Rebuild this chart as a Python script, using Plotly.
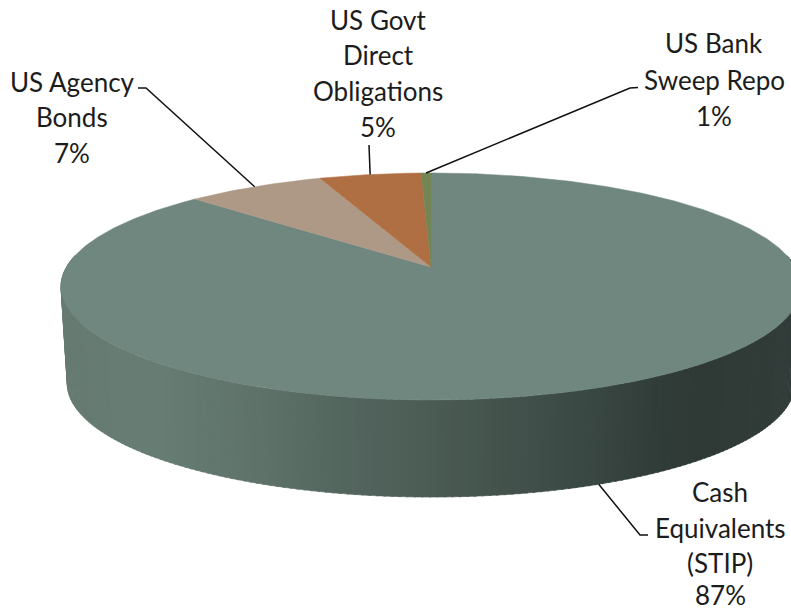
import numpy as np
import plotly.graph_objects as go

# Data (clockwise from 12 o'clock, as drawn)
categories = ["Cash Equivalents (STIP)", "US Agency Bonds", "US Govt Direct Obligations", "US Bank Sweep Repo"]
values = [87.1, 7.15, 5.25, 0.5]
percent_labels = ["87%", "7%", "5%", "1%"]
label_lines = [["Cash", "Equivalents", "(STIP)"], ["US Agency", "Bonds"], ["US Govt", "Direct", "Obligations"], ["US Bank", "Sweep Repo"]]
slice_colors = ["#70877F", "#AD9986", "#B06E43", "#748555"]

# Label line centres in the picture
label_x = [720, 72, 378, 714]
label_y = [[492, 528, 563, 595], [82, 117, 153], [20, 55, 91, 127], [43, 80, 116]]

# Projection of the pie disc
CX, CY, B, A, K = 431.0, 267.0, 364.5, -64.3, 0.1718
DEPTH, SHRINK = 97.0, 0.983


def rim(deg, bottom=False):
    t = np.radians(deg)
    X, Y = np.sin(t), np.cos(t)
    d = 1 + K * Y
    x = CX + B * X / d
    y = (CY + A * Y) / d
    if bottom:
        x = CX + SHRINK * (x - CX)
        y = y + DEPTH
    return x, y


# Wall shading by horizontal position
wall_x = [60, 150, 250, 340, 420, 500, 590, 650, 700, 800]
wall_rgb = [(102, 122, 113), (104, 126, 117), (95, 115, 106), (84, 103, 95), (76, 93, 86),
            (68, 84, 77), (58, 72, 67), (50, 62, 58), (47, 58, 55), (51, 62, 59)]

fig = go.Figure()

step = 1.0
for a in np.arange(84, 276, step):
    arc = np.array([a, a + step + 0.3])
    tx, ty = rim(arc)
    bx, by = rim(arc[::-1], bottom=True)
    mid = tx.mean()
    rgb = [np.interp(mid, wall_x, [c[i] for c in wall_rgb]) for i in range(3)]
    col = "rgb(%d,%d,%d)" % tuple(rgb)
    fig.add_trace(go.Scatter(x=np.r_[tx, bx, tx[0]], y=np.r_[ty, by, ty[0]], mode="lines",
                             line=dict(color=col, width=0.6), fill="toself", fillcolor=col,
                             hoverinfo="skip", showlegend=False))

start = 0.0
mids = []
for name, v, c in zip(categories, values, slice_colors):
    a0, a1 = start * 3.6, (start + v) * 3.6
    arc = np.linspace(a0, a1, max(int(a1 - a0) * 2, 4))
    ax, ay = rim(arc)
    fig.add_trace(go.Scatter(x=np.r_[CX, ax, CX], y=np.r_[CY, ay, CY], mode="lines",
                             line=dict(color=c, width=0.5), fill="toself", fillcolor=c,
                             name=name, hoverinfo="name", showlegend=False))
    mids.append((a0 + a1) / 2)
    start += v

# Leader lines: elbow points near labels, ends on the rim at each slice's middle
elbows = [[(648, 535), (640, 535)], [(138, 88), (146, 88)], [(369, 145)], [(638, 87.5), (630, 88)]]
for i, (m, e) in enumerate(zip(mids, elbows)):
    rx, ry = rim(m, bottom=(i == 0))
    xs = [p[0] for p in e] + [float(rx)]
    ys = [p[1] for p in e] + [float(ry)]
    fig.add_trace(go.Scatter(x=xs, y=ys, mode="lines", line=dict(color="#111111", width=1.5),
                             hoverinfo="skip", showlegend=False))

for lines, pct, lx, lys in zip(label_lines, percent_labels, label_x, label_y):
    for text, ly in zip(lines + [pct], lys):
        fig.add_annotation(x=lx, y=ly, xref="x", yref="y", text=text, showarrow=False,
                           xanchor="center", yanchor="middle",
                           font=dict(family="Lato", size=26, color="#1c1c1c"))

fig.update_layout(
    width=791, height=611, margin=dict(l=0, r=0, t=0, b=0),
    paper_bgcolor="white", plot_bgcolor="white", showlegend=False,
    xaxis=dict(range=[0, 791], visible=False, fixedrange=True),
    yaxis=dict(range=[611, 0], visible=False, fixedrange=True),
)
fig.write_html("out.html", post_script="document.body.style.margin='0';",
               config=dict(displayModeBar=False))
